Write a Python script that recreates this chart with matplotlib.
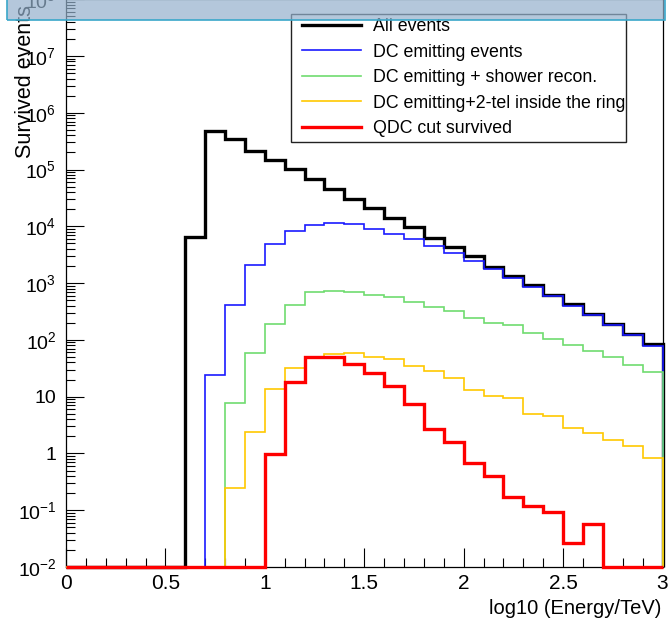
import numpy as np
import matplotlib
matplotlib.use("Agg")
import matplotlib.pyplot as plt
from matplotlib.patches import Rectangle
from matplotlib.lines import Line2D
from matplotlib.ticker import MultipleLocator, LogLocator, FuncFormatter, NullFormatter

plt.rcParams['font.family'] = ['Liberation Sans', 'DejaVu Sans']
plt.rcParams['mathtext.default'] = 'regular'

# ---- data ----
bin_edges = np.linspace(0.0, 3.0, 31)   # log10(E/TeV) bins of width 0.1

all_events = [0, 0, 0, 0, 0, 0,
              6.5e3, 4.7e5, 3.4e5, 2.13e5, 1.48e5, 1.02e5, 6.8e4, 4.57e4, 3.0e4, 2.13e4,
              1.43e4, 9.6e3, 6.3e3, 4.3e3, 2.95e3, 1.94e3, 1.33e3, 910, 622, 422,
              285, 192, 128, 84]
dc_emitting = [0, 0, 0, 0, 0, 0, 0,
               23.7, 415, 2.07e3, 4.8e3, 8.3e3, 1.05e4, 1.13e4, 1.08e4, 8.8e3,
               7.4e3, 5.9e3, 4.5e3, 3.33e3, 2.5e3, 1.74e3, 1.24e3, 861, 590, 394,
               270, 185, 122, 78]
dc_shower = [0, 0, 0, 0, 0, 0, 0, 0,
             7.8, 59, 188, 415, 686, 723, 686, 615,
             574, 469, 373, 325, 245, 195, 182, 133, 103, 81,
             64, 49, 36, 27]
dc_2tel = [0, 0, 0, 0, 0, 0, 0, 0,
           0.243, 2.41, 13.6, 31.9, 47, 56, 59, 49,
           46, 34, 28.6, 21, 13.1, 10.4, 9.6, 4.94, 4.6, 2.8,
           2.26, 1.72, 1.35, 0.83]
qdc_cut = [0, 0, 0, 0, 0, 0, 0, 0, 0, 0,
           0.96, 18.3, 50, 50, 37.5, 26,
           15.4, 7.3, 2.72, 1.59, 0.67, 0.40, 0.173, 0.119, 0.094, 0.026,
           0.057, 0, 0, 0]

series_labels = ["All events", "DC emitting events", "DC emitting + shower recon.",
                 "DC emitting+2-tel inside the ring", "QDC cut survived"]
series_values = [all_events, dc_emitting, dc_shower, dc_2tel, qdc_cut]
series_colors = ["#000000", "#1a1aff", "#6fdc6f", "#ffc800", "#ff0000"]
series_widths = [2.4, 1.2, 1.2, 1.2, 2.4]

x_label = "log10 (Energy/TeV)"
y_label = "Survived events"
ymin, ymax = 1e-2, 1e8

# ---- figure ----
W, H = 668, 619
fig = plt.figure(figsize=(W / 100, H / 100), dpi=100)
ax_left, ax_right, ax_bottom, ax_top = 66, 662.5, 567, -0.8
ax = fig.add_axes([ax_left / W, 1 - ax_bottom / H,
                   (ax_right - ax_left) / W, (ax_bottom - ax_top) / H])
ax.set_yscale('log')

for vals, col, lw in zip(series_values, series_colors, series_widths):
    v = np.maximum(np.asarray(vals, dtype=float), ymin)
    ax.stairs(v, bin_edges, baseline=ymin, color=col, lw=lw, clip_on=False, zorder=3)

ax.set_xlim(0, 3)
ax.set_ylim(ymin, ymax)

# ticks
ax.xaxis.set_major_locator(MultipleLocator(0.5))
ax.xaxis.set_minor_locator(MultipleLocator(0.1))
ax.xaxis.set_major_formatter(FuncFormatter(lambda v, p: f"{v:g}"))
ax.yaxis.set_major_locator(LogLocator(base=10, numticks=20))
ax.yaxis.set_minor_locator(LogLocator(base=10, subs=np.arange(2, 10), numticks=200))
ax.yaxis.set_minor_formatter(NullFormatter())

def yfmt(v, p):
    e = int(round(np.log10(v)))
    if e == 0:
        return "1"
    if e == 1:
        return "10"
    return r"$10^{%d}$" % e

ax.yaxis.set_major_formatter(FuncFormatter(yfmt))
ax.tick_params(which='both', direction='in', top=False, right=False, width=0.8)
ax.tick_params(axis='x', which='major', length=13.7, labelsize=15, pad=5)
ax.tick_params(axis='x', which='minor', length=6.8)
ax.tick_params(axis='y', which='major', length=13, labelsize=14, pad=7)
ax.tick_params(axis='y', which='minor', length=6.5)
for s in ax.spines.values():
    s.set_linewidth(0.9)

# axis titles
fig.text(661 / W, 1.5 / H, x_label, ha='right', va='bottom', fontsize=14.5)
fig.text(26 / W, 1 - 158 / H, y_label, rotation=90, ha='center', va='bottom', fontsize=15.5)

# legend (box drawn separately so text may overflow like the original)
box = Rectangle((290.7 / W, 1 - 142 / H), (626 - 290.7) / W, (142 - 14) / H,
                transform=fig.transFigure, facecolor='white', edgecolor='#222222',
                lw=1.0, zorder=4)
ax.add_artist(box)
handles = [Line2D([], [], color=c, lw=lw) for c, lw in zip(series_colors, series_widths)]
leg = ax.legend(handles, series_labels, loc='upper left',
                bbox_to_anchor=(302 / W, 1 - 18 / H), bbox_transform=fig.transFigure,
                frameon=False, borderpad=0, borderaxespad=0, handlelength=3.3,
                handletextpad=0.72, labelspacing=0.48, fontsize=12.8)
leg.set_zorder(5)

# translucent banner over the top edge
banner = Rectangle((6.7 / W, 1 - 19.5 / H), (665 - 6.7) / W, 25 / H,
                   transform=fig.transFigure, facecolor=(0.58, 0.69, 0.80),
                   alpha=0.7, edgecolor='none', zorder=10)
fig.add_artist(banner)
banner_edge = Rectangle((6.7 / W, 1 - 19.5 / H), (665 - 6.7) / W, 25 / H,
                        transform=fig.transFigure, facecolor='none',
                        edgecolor='#3aa7c9', lw=1.2, zorder=11)
fig.add_artist(banner_edge)

fig.savefig("out.png", dpi=100)
